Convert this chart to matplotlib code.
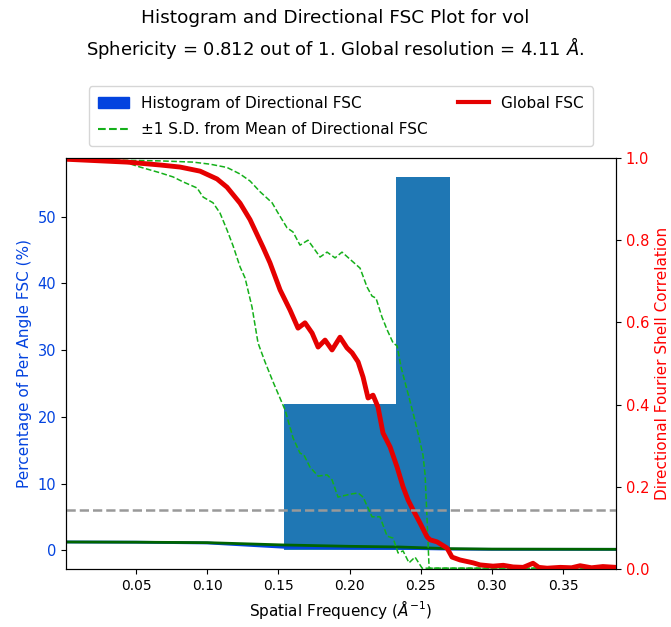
import matplotlib.pyplot as plt
from matplotlib.patches import Patch
from matplotlib.lines import Line2D

# histogram of directional resolutions (bin edges in 1/A, percent of angles)
hist_edges = [0.1543, 0.2325, 0.2706]
hist_pct = [22.0, 56.0]

# global FSC curve
fsc_freq = [0.0008, 0.0437, 0.0669, 0.0809, 0.0950, 0.1069, 0.1139, 0.1231,
            0.1301, 0.1392, 0.1441, 0.1512, 0.1582, 0.1638, 0.1687, 0.1737,
            0.1779, 0.1828, 0.1877, 0.1933, 0.1982, 0.2018, 0.2060, 0.2095,
            0.2130, 0.2165, 0.2200, 0.2235, 0.2285, 0.2334, 0.2376, 0.2411,
            0.2446, 0.2495, 0.2545, 0.2566, 0.2615, 0.2685, 0.2720, 0.2776,
            0.2868, 0.2917, 0.3008, 0.3080, 0.3149, 0.3220, 0.3289, 0.3330,
            0.3388, 0.3480, 0.3560, 0.3620, 0.3700, 0.3780, 0.3872]
fsc_val = [0.997, 0.990, 0.983, 0.978, 0.968, 0.949, 0.929, 0.890,
           0.850, 0.783, 0.745, 0.679, 0.630, 0.586, 0.599, 0.574,
           0.540, 0.557, 0.533, 0.564, 0.538, 0.526, 0.504, 0.467,
           0.416, 0.423, 0.394, 0.331, 0.297, 0.248, 0.200, 0.168,
           0.144, 0.112, 0.078, 0.071, 0.066, 0.051, 0.029, 0.022,
           0.015, 0.010, 0.007, 0.009, 0.005, 0.004, 0.014, 0.004,
           0.002, 0.004, 0.003, 0.008, 0.003, 0.006, 0.004]

# +1 S.D. curve
sd_hi_freq = [0.0008, 0.0317, 0.0669, 0.0900, 0.1020, 0.1139, 0.1231, 0.1301,
              0.1371, 0.1456, 0.1498, 0.1561, 0.1603, 0.1652, 0.1708, 0.1793,
              0.1842, 0.1898, 0.1947, 0.2025, 0.2074, 0.2123, 0.2158, 0.2186,
              0.2228, 0.2264, 0.2306, 0.2334, 0.2362, 0.2404, 0.2446, 0.2481,
              0.2516, 0.2531, 0.2545, 0.2559, 0.3872]
sd_hi_val = [1.0, 0.995, 0.993, 0.990, 0.985, 0.977, 0.961, 0.944,
             0.918, 0.891, 0.866, 0.830, 0.820, 0.788, 0.800, 0.759,
             0.771, 0.757, 0.771, 0.747, 0.732, 0.686, 0.664, 0.659,
             0.613, 0.582, 0.550, 0.543, 0.491, 0.436, 0.380, 0.331,
             0.277, 0.229, 0.119, 0.002, 0.002]

# -1 S.D. curve
sd_lo_freq = [0.0008, 0.0317, 0.0437, 0.0528, 0.0669, 0.0760, 0.0830, 0.0929,
              0.0971, 0.1041, 0.1090, 0.1139, 0.1182, 0.1231, 0.1266, 0.1315,
              0.1357, 0.1406, 0.1463, 0.1547, 0.1603, 0.1652, 0.1680, 0.1722,
              0.1779, 0.1842, 0.1877, 0.1919, 0.2004, 0.2060, 0.2095, 0.2158,
              0.2214, 0.2264, 0.2306, 0.2341, 0.2376, 0.2418, 0.2460, 0.2510,
              0.3872]
sd_lo_val = [1.0, 0.993, 0.988, 0.978, 0.964, 0.954, 0.942, 0.927,
             0.905, 0.891, 0.866, 0.825, 0.786, 0.735, 0.708, 0.637,
             0.550, 0.504, 0.455, 0.387, 0.319, 0.282, 0.277, 0.248,
             0.226, 0.229, 0.217, 0.175, 0.182, 0.185, 0.175, 0.127,
             0.127, 0.080, 0.075, 0.039, 0.044, 0.015, 0.029, 0.002,
             0.002]

# small curves near zero on the percentage axis
base_freq = [0.0008, 0.05, 0.10, 0.1543, 0.20, 0.235, 0.27, 0.30, 0.3872]
base_blue = [1.25, 1.22, 1.10, 0.45, 0.35, 0.30, 0.18, 0.15, 0.15]
base_green = [1.25, 1.22, 1.15, 0.80, 0.60, 0.50, 0.25, 0.18, 0.15]

threshold = 0.143

BLUE = '#0343df'
RED = '#e50000'
GREEN = '#15b01a'

plt.rc('axes', labelsize=11)
plt.rc('legend', fontsize=11)

fig = plt.figure(figsize=(6.71, 6.27), dpi=100)
ax1 = fig.add_axes([0.0984, 0.0925, 0.8196, 0.6555])
ax2 = ax1.twinx()

widths = [hist_edges[i + 1] - hist_edges[i] for i in range(len(hist_pct))]
ax1.bar(hist_edges[:-1], hist_pct, width=widths, align='edge', color='#1f77b4')
ax1.plot(base_freq, base_blue, color=BLUE, lw=2)
ax1.plot(base_freq, base_green, color='#006400', lw=2)
ax1.set_ylim(-2.8, 58.8)
ax1.set_xlim(0.0008, 0.3872)
ax1.set_ylabel('Percentage of Per Angle FSC (%)', color=BLUE)
ax1.tick_params(axis='y', labelcolor=BLUE, labelsize=10.5)
ax1.set_xlabel(r'Spatial Frequency ($\AA^{-1}$)')

ax2.plot(sd_hi_freq, sd_hi_val, '--', color=GREEN, lw=1.1)
ax2.plot(sd_lo_freq, sd_lo_val, '--', color=GREEN, lw=1.1)
ax2.plot(fsc_freq, fsc_val, color=RED, lw=3.5)
ax2.axhline(threshold, color='#999999', ls='--', lw=1.8)
ax2.set_ylim(0, 1)
ax2.set_ylabel('Directional Fourier Shell Correlation', color='red')
ax2.tick_params(axis='y', labelcolor='red', labelsize=10.5)

handles = [Patch(color=BLUE, label='Histogram of Directional FSC'),
           Line2D([], [], color=GREEN, ls='--', lw=1.5,
                  label=u'\u00b11 S.D. from Mean of Directional FSC'),
           Line2D([], [], color=RED, lw=3, label='Global FSC')]
ax1.legend(handles=handles, ncol=2, loc='lower center',
           bbox_to_anchor=(0.5, 1.01), labelspacing=0.75, borderpad=0.6)

fig.text(0.5, 0.971, 'Histogram and Directional FSC Plot for vol',
         ha='center', va='center', fontsize=13.3)
fig.text(0.5, 0.923,
         r'Sphericity = 0.812 out of 1. Global resolution = 4.11 $\AA$.',
         ha='center', va='center', fontsize=13)

fig.savefig('out.png', dpi=100)
